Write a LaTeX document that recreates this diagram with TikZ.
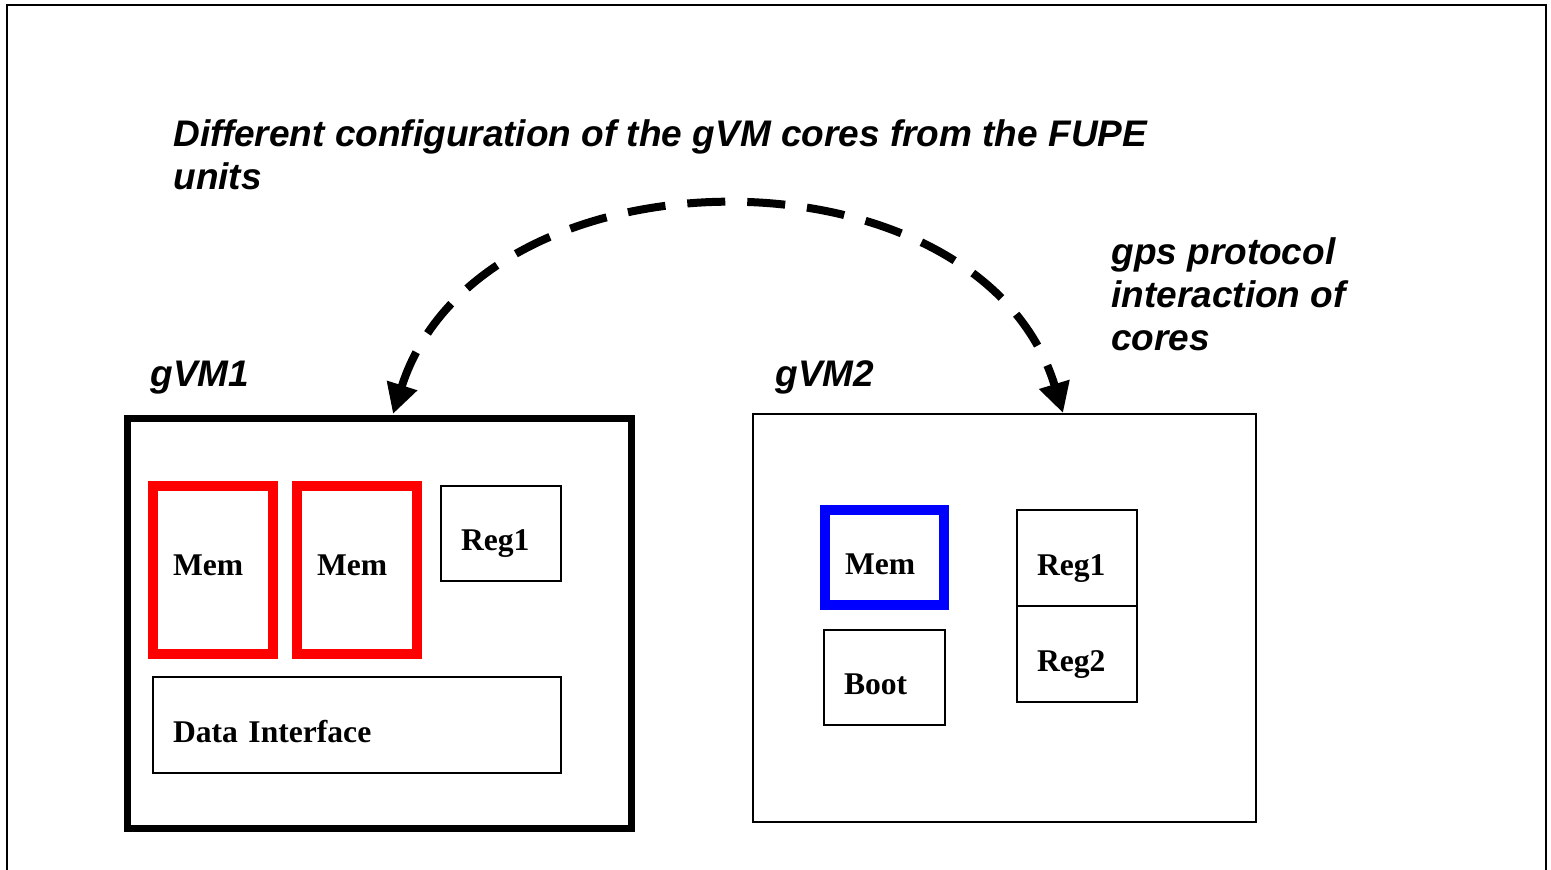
\documentclass[tikz,border=0pt]{standalone}
\usepackage{fontspec}
\setmainfont{Liberation Serif}
\setsansfont{Liberation Sans}
\usetikzlibrary{arrows.meta,positioning}

\begin{document}
\begin{tikzpicture}[x=0.5pt,y=-0.5pt,
vm/.style={draw,outer sep=0pt,inner sep=0pt,anchor=north west},
cell/.style={draw,outer sep=0pt,inner xsep=10pt,align=left,anchor=north west,
font=\bfseries\fontsize{15.8}{18}\selectfont,text height=17pt,text depth=0pt},
note/.style={anchor=base west,align=left,inner sep=0pt,
font=\sffamily\bfseries\itshape\fontsize{18.5}{21.5}\selectfont},
flow/.style={{Triangle[length=15pt,width=15pt]}-{Triangle[length=15pt,width=15pt]},
line width=4pt,dash pattern=on 19pt off 11pt}]
\useasboundingbox (0,0) rectangle (1551,869);
\draw[line width=1pt] (7,880) -- (7,5) -- (1546,5) -- (1546,880);
% virtual machines
\node[vm,line width=3.5pt,minimum width=252pt,minimum height=205pt] (gvm1) at (127,418) {};
\node[vm,line width=1pt,minimum width=251.5pt,minimum height=204pt] (gvm2) at (753,414) {};
\node[note] (gvm1lbl) at (150,386) {gVM1};
\node[note] (gvm2lbl) at (775,386) {gVM2};
% gVM1 units
\node[cell,red,text=black,line width=5pt,text width=40pt,minimum height=84pt,text height=5pt] (mem1) at (153,486) {Mem};
\node[cell,red,text=black,line width=5pt,text width=40pt,minimum height=84pt,text height=5pt] (mem2) at (297,486) {Mem};
\node[cell,line width=1pt,text width=40pt,minimum height=47.5pt] (reg1a) at (441,486) {Reg1};
\node[cell,line width=1pt,text width=184pt,minimum height=48pt] (data) at (153,677) {Data Interface};
% gVM2 units
\node[cell,blue,text=black,line width=5pt,text width=39.5pt,minimum height=47.5pt] (mem3) at (825,510) {Mem};
\node[cell,line width=1pt,text width=40.5pt,minimum height=47.5pt] (boot) at (824,630) {Boot};
\node[cell,line width=1pt,text width=40pt,minimum height=48pt] (reg1b) at (1017,510) {Reg1};
\node[cell,line width=1pt,text width=40pt,minimum height=48pt,below=0pt of reg1b] (reg2b) {Reg2};
% texts
\node[note] (title) at (173,189) {Different configuration of the gVM cores from the FUPE\\units};
\node[note] (gps) at (1111,350) {gps protocol\\interaction of\\cores};
\coordinate (in1) at (393,414);
\coordinate (in2) at (1063,413);
\draw[flow] (in1) .. controls (480,140) and (980,140) .. (in2);
\end{tikzpicture}
\end{document}
